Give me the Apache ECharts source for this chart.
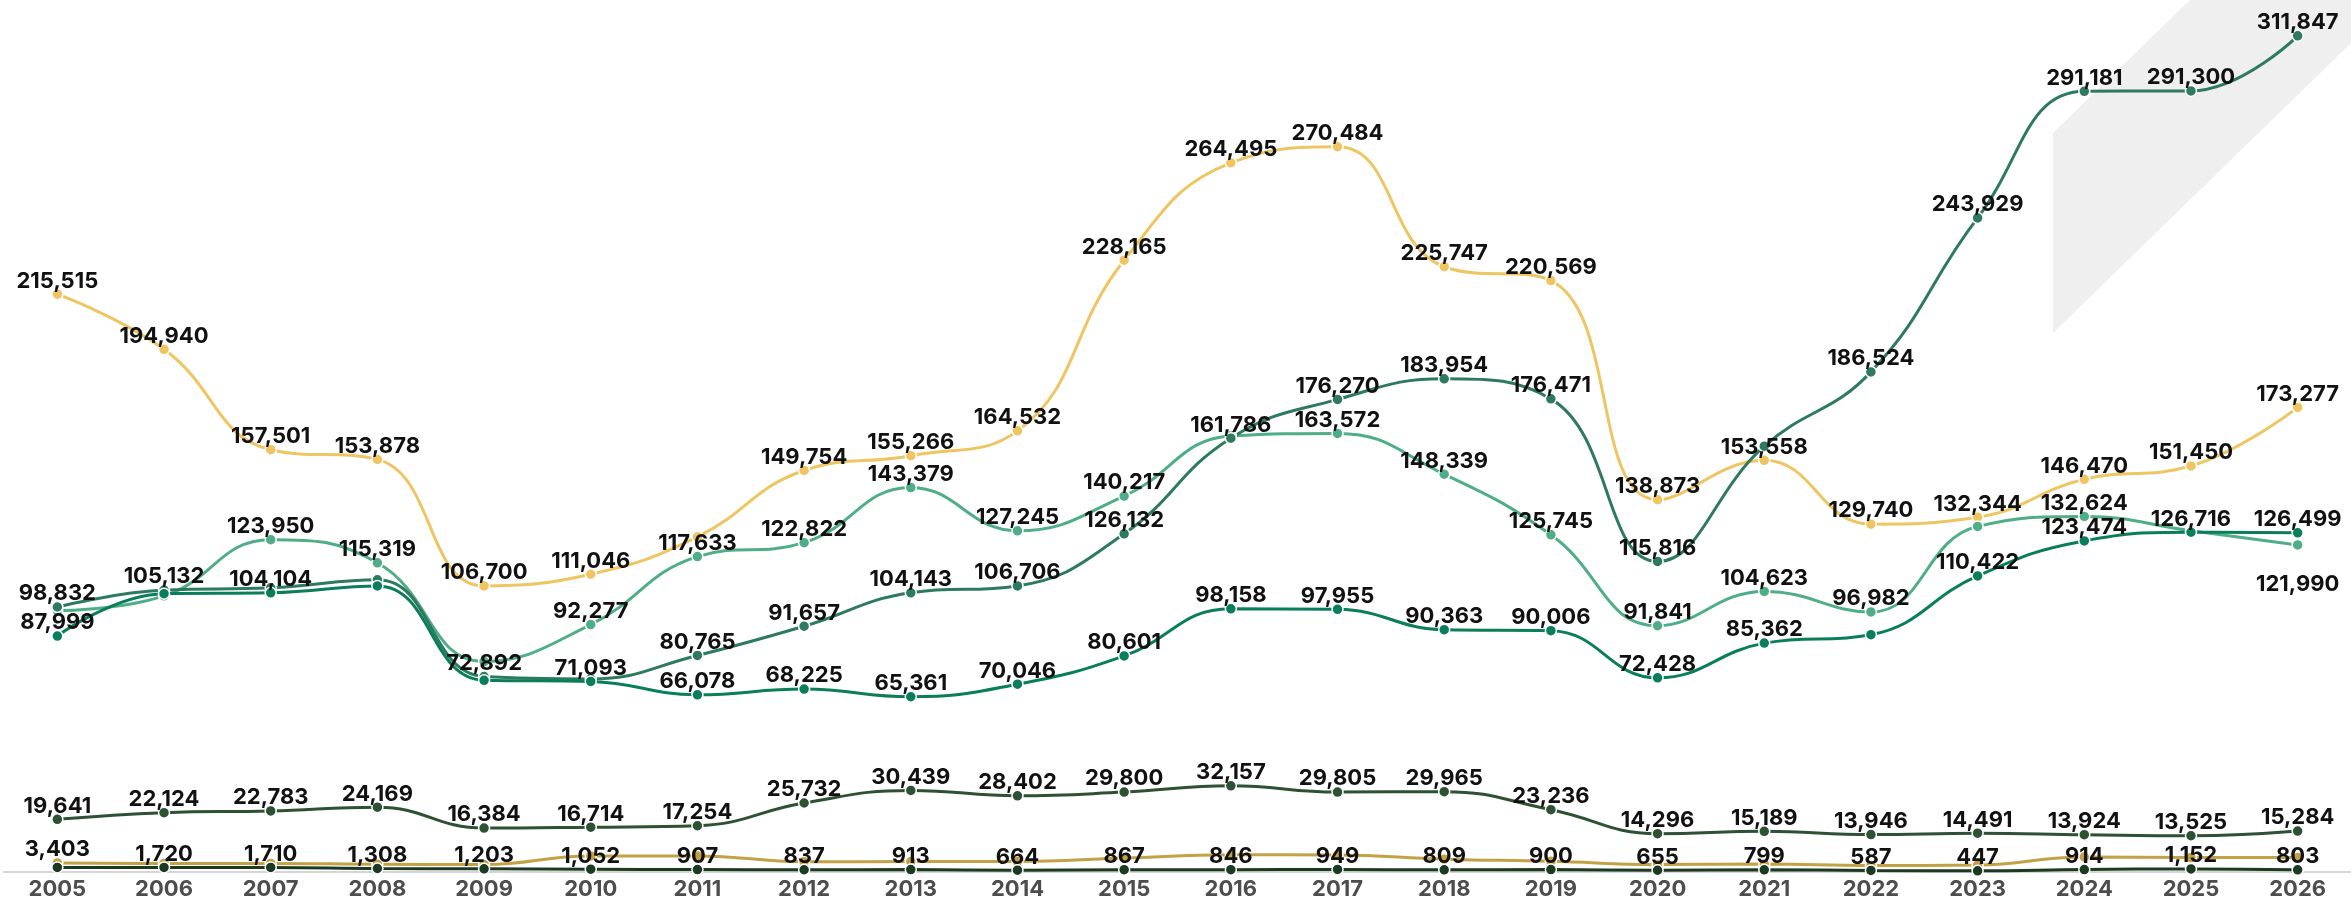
<!DOCTYPE html>
<html>
<head>
<meta charset="utf-8">
<script src="https://cdn.jsdelivr.net/npm/echarts@6/dist/echarts.min.js"></script>
<style>
  html, body { margin: 0; padding: 0; background: #fff; }
  #mainLine { width: 2351px; height: 903px; }
</style>
</head>
<body>
<div id="mainLine"></div>
<script>
// categories
const years = ["2005", "2006", "2007", "2008", "2009", "2010", "2011", "2012", "2013", "2014", "2015",
  "2016", "2017", "2018", "2019", "2020", "2021", "2022", "2023", "2024", "2025", "2026"];

// series values
const goldTop = [215515, 194940, 157501, 153878, 106700, 111046, 125000, 149754, 155266, 164532, 228165,
  264495, 270484, 225747, 220569, 138873, 153558, 129740, 132344, 146470, 151450, 173277];
const tealDark = [98832, 105132, 106000, 109000, 72892, 72000, 80765, 91657, 104143, 106706, 126132,
  161786, 176270, 183954, 176471, 115816, 158800, 186524, 243929, 291181, 291300, 311847];
const greenLight = [97500, 103000, 123950, 115319, 78500, 92277, 117633, 122822, 143379, 127245, 140217,
  162600, 163572, 148339, 125745, 91841, 104623, 96982, 128900, 132624, 127300, 121990];
const greenMid = [87999, 103800, 104104, 106700, 71500, 71093, 66078, 68225, 65361, 70046, 80601,
  98158, 97955, 90363, 90006, 72428, 85362, 88500, 110422, 123474, 126716, 126499];
const forest = [19641, 22124, 22783, 24169, 16384, 16714, 17254, 25732, 30439, 28402, 29800,
  32157, 29805, 29965, 23236, 14296, 15189, 13946, 14491, 13924, 13525, 15284];
const olive = [3403, 3200, 3200, 2900, 2800, 6000, 6000, 3800, 3900, 3900, 5200,
  6400, 6300, 4800, 4000, 2800, 3000, 2400, 2600, 5600, 5400, 5400];
const darkest = [1700, 1720, 1710, 1308, 1203, 1052, 907, 837, 913, 664, 867,
  846, 949, 809, 900, 655, 799, 587, 447, 914, 1152, 803];

// labels that the original hides where they collide (indices into years)
const allIdx = years.map((y, i) => i);

function makeSeries(name, values, color, hidden, below) {
  return {
    name: name,
    type: "line",
    smooth: 0.45,
    symbol: "circle",
    symbolSize: 11,
    lineStyle: { width: 3, color: color },
    itemStyle: { color: color, borderColor: "#fff", borderWidth: 1.5 },
    label: {
      show: true,
      position: "top",
      distance: -4,
      color: "#111",
      fontFamily: "Inter",
      fontWeight: "bold",
      fontSize: 22,
      formatter: p => p.value.toLocaleString("en-US")
    },
    data: values.map((v, i) => ({
      value: v,
      label: {
        show: hidden.indexOf(i) < 0,
        position: below.indexOf(i) < 0 ? "top" : "bottom",
        distance: below.indexOf(i) < 0 ? -4 : 22
      }
    }))
  };
}

let myChart = echarts.init(document.getElementById("mainLine"));
let option = {
  animation: false,
  backgroundColor: "#fff",
  grid: { left: 4, right: 0, top: 14, bottom: 31 },
  xAxis: {
    type: "category",
    data: years,
    boundaryGap: true,
    axisLine: { lineStyle: { color: "#d4d4d4", width: 2 } },
    axisTick: { show: false },
    axisLabel: {
      color: "#4d4d4d",
      fontFamily: "Inter",
      fontWeight: "bold",
      fontSize: 22,
      margin: 6
    }
  },
  yAxis: {
    type: "value",
    min: 0,
    max: 320000,
    show: false,
    splitLine: { show: false }
  },
  // grey decoration in the top right corner
  graphic: [{
    type: "polygon",
    z: -10,
    shape: { points: [[2053, 133], [2190, 0], [2351, 0], [2351, 43], [2053, 333]] },
    style: { fill: "#efefef" }
  }],
  series: [
    makeSeries("goldTop", goldTop, "#efc561", [6], []),
    makeSeries("greenLight", greenLight, "#4fae87", [0, 1, 4, 11, 18, 20], [21]),
    makeSeries("tealDark", tealDark, "#2e7a5e", [2, 3, 5, 16], []),
    makeSeries("greenMid", greenMid, "#0a7d5b", [1, 3, 4, 17], []),
    makeSeries("forest", forest, "#2d5133", [], []),
    makeSeries("olive", olive, "#c4a145", allIdx.slice(1), []),
    makeSeries("darkest", darkest, "#1c3a22", [0], [])
  ]
};
myChart.setOption(option);
</script>
</body>
</html>
